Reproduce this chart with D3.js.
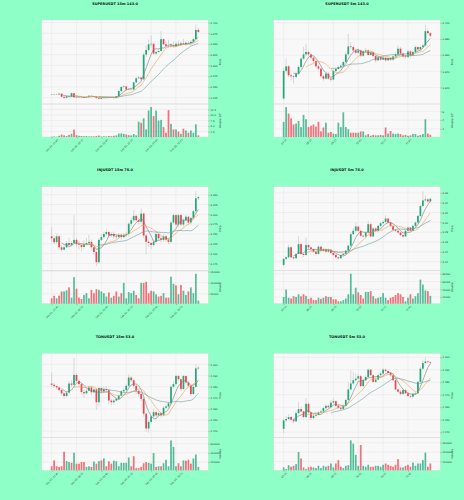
<!DOCTYPE html>
<html>
<head>
<meta charset="utf-8">
<script src="https://cdn.jsdelivr.net/npm/d3@7"></script>
<style>
html, body { margin: 0; padding: 0; background: #8effc6; }
svg { display: block; font-family: "DejaVu Sans", sans-serif; }
</style>
</head>
<body>
<svg id="chart" width="464" height="500"></svg>
<script>
// ---- SUPERUSDT 15m ----
const superO15 = [0.5318,0.5322,0.5329,0.5322,0.5341,0.5269,0.5245,0.5281,0.5269,0.5353,
  0.5257,0.5245,0.5250,0.5245,0.5262,0.5269,0.5293,0.5286,0.5269,0.5238,
  0.5221,0.5245,0.5257,0.5262,0.5257,0.5250,0.5238,0.5281,0.5401,0.5497,
  0.5509,0.5437,0.5430,0.5437,0.5605,0.5701,0.5718,0.5677,0.6253,0.6361,
  0.6493,0.6505,0.6277,0.6313,0.6337,0.6613,0.6493,0.6457,0.6445,0.6469,
  0.6445,0.6505,0.6481,0.6517,0.6493,0.6529,0.6517,0.6553,0.6613,0.6829];
const superH15 = [0.5335,0.5340,0.5338,0.5365,0.5345,0.5275,0.5295,0.5290,0.5370,0.5360,
  0.5265,0.5262,0.5258,0.5275,0.5280,0.5305,0.5300,0.5290,0.5272,0.5245,
  0.5252,0.5265,0.5270,0.5268,0.5262,0.5255,0.5290,0.5420,0.5515,0.5545,
  0.5520,0.5455,0.5450,0.5620,0.5740,0.5760,0.5730,0.6300,0.6470,0.6600,
  0.6700,0.6520,0.6340,0.6380,0.6800,0.6630,0.6560,0.6600,0.6520,0.6560,
  0.6560,0.6580,0.6560,0.6620,0.6560,0.6560,0.6590,0.6640,0.6955,0.6880];
const superL15 = [0.5310,0.5315,0.5312,0.5318,0.5255,0.5230,0.5240,0.5255,0.5262,0.5245,
  0.5232,0.5238,0.5230,0.5240,0.5255,0.5262,0.5275,0.5258,0.5225,0.5205,
  0.5215,0.5238,0.5250,0.5245,0.5240,0.5225,0.5230,0.5275,0.5385,0.5470,
  0.5420,0.5415,0.5420,0.5425,0.5590,0.5680,0.5650,0.5660,0.6200,0.6330,
  0.6420,0.6250,0.6240,0.6290,0.6320,0.6470,0.6420,0.6420,0.6430,0.6420,
  0.6430,0.6460,0.6460,0.6480,0.6470,0.6500,0.6500,0.6540,0.6600,0.6760];
const superC15 = [0.5322,0.5329,0.5322,0.5341,0.5269,0.5245,0.5281,0.5269,0.5353,0.5257,
  0.5245,0.5250,0.5245,0.5262,0.5269,0.5293,0.5286,0.5269,0.5238,0.5221,
  0.5245,0.5257,0.5262,0.5257,0.5250,0.5238,0.5281,0.5401,0.5497,0.5509,
  0.5437,0.5430,0.5437,0.5605,0.5701,0.5718,0.5677,0.6253,0.6361,0.6493,
  0.6505,0.6277,0.6313,0.6337,0.6613,0.6493,0.6457,0.6445,0.6469,0.6445,
  0.6505,0.6481,0.6517,0.6493,0.6529,0.6517,0.6553,0.6613,0.6829,0.6781];
const superV15 = [0.2e7,0.3e7,0.2e7,0.6e7,1.2e7,0.8e7,0.5e7,1.0e7,1.5e7,3.4e7,
  0.9e7,0.6e7,0.5e7,0.4e7,0.5e7,0.3e7,0.4e7,0.3e7,0.5e7,0.7e7,
  0.3e7,0.4e7,0.3e7,0.5e7,0.4e7,0.6e7,0.8e7,1.6e7,1.7e7,1.5e7,
  1.2e7,0.9e7,0.8e7,1.4e7,0.8e7,7.0e7,6.5e7,8.5e7,3.5e7,12.0e7,
  13.6e7,9.5e7,12.0e7,7.5e7,7.8e7,4.5e7,2.0e7,12.2e7,6.0e7,3.5e7,
  3.5e7,2.5e7,1.5e7,3.8e7,3.0e7,2.0e7,3.0e7,2.0e7,5.8e7,0.8e7];

// ---- SUPERUSDT 5m ----
const superO5 = [0.6064,0.6405,0.6462,0.6351,0.6339,0.6331,0.6372,0.6454,0.6557,0.6610,
  0.6639,0.6610,0.6569,0.6528,0.6462,0.6433,0.6339,0.6310,0.6372,0.6310,
  0.6298,0.6405,0.6429,0.6454,0.6470,0.6515,0.6610,0.6708,0.6700,0.6659,
  0.6630,0.6659,0.6593,0.6647,0.6659,0.6602,0.6634,0.6589,0.6536,0.6573,
  0.6544,0.6569,0.6536,0.6565,0.6544,0.6585,0.6610,0.6680,0.6618,0.6585,
  0.6577,0.6647,0.6597,0.6639,0.6700,0.6671,0.6700,0.6721,0.6897,0.6872];
const superH5 = [0.6440,0.6557,0.6480,0.6370,0.6360,0.6395,0.6475,0.6580,0.6700,0.6740,
  0.6655,0.6625,0.6585,0.6545,0.6480,0.6450,0.6355,0.6395,0.6390,0.6330,
  0.6425,0.6450,0.6475,0.6495,0.6535,0.6640,0.6864,0.6760,0.6715,0.6680,
  0.6680,0.6670,0.6665,0.6690,0.6670,0.6650,0.6650,0.6600,0.6590,0.6585,
  0.6590,0.6580,0.6580,0.6575,0.6600,0.6630,0.6720,0.6700,0.6640,0.6600,
  0.6665,0.6660,0.6655,0.6720,0.6710,0.6715,0.6740,0.6979,0.6930,0.6885];
const superL5 = [0.6052,0.6380,0.6330,0.6290,0.6250,0.6310,0.6360,0.6440,0.6540,0.6590,
  0.6590,0.6545,0.6500,0.6440,0.6410,0.6320,0.6280,0.6300,0.6295,0.6270,
  0.6285,0.6390,0.6420,0.6440,0.6455,0.6500,0.6590,0.6680,0.6640,0.6610,
  0.6620,0.6575,0.6580,0.6630,0.6590,0.6595,0.6570,0.6510,0.6525,0.6530,
  0.6540,0.6520,0.6530,0.6530,0.6535,0.6570,0.6595,0.6600,0.6570,0.6560,
  0.6565,0.6580,0.6590,0.6625,0.6655,0.6660,0.6690,0.6705,0.6855,0.6825];
const superC5 = [0.6405,0.6462,0.6351,0.6339,0.6331,0.6372,0.6454,0.6557,0.6610,0.6639,
  0.6610,0.6569,0.6528,0.6462,0.6433,0.6339,0.6310,0.6372,0.6310,0.6298,
  0.6405,0.6429,0.6454,0.6470,0.6515,0.6610,0.6708,0.6700,0.6659,0.6630,
  0.6659,0.6593,0.6647,0.6659,0.6602,0.6634,0.6589,0.6536,0.6573,0.6544,
  0.6569,0.6536,0.6565,0.6544,0.6585,0.6610,0.6680,0.6618,0.6585,0.6577,
  0.6647,0.6597,0.6639,0.6700,0.6671,0.6700,0.6721,0.6897,0.6872,0.6840];
const superV5 = [3.6e7,7.0e7,5.5e7,4.4e7,3.0e7,3.2e7,3.8e7,2.4e7,5.2e7,4.2e7,
  2.4e7,2.7e7,3.0e7,2.5e7,3.6e7,1.4e7,2.3e7,3.4e7,1.1e7,1.3e7,
  0.9e7,0.8e7,3.4e7,2.4e7,5.8e7,2.4e7,1.9e7,1.1e7,1.1e7,1.1e7,
  1.1e7,1.4e7,1.4e7,0.5e7,0.8e7,0.4e7,0.6e7,0.5e7,0.5e7,0.6e7,
  0.5e7,2.3e7,0.9e7,1.5e7,0.9e7,0.8e7,0.9e7,0.8e7,0.5e7,0.6e7,
  0.4e7,0.5e7,0.8e7,0.8e7,0.4e7,0.6e7,0.8e7,4.2e7,0.9e7,0.6e7];

// ---- INJUSDT 15m ----
const injO15 = [9.244,9.239,9.229,9.244,9.216,9.210,9.216,9.227,9.222,9.227,
  9.235,9.224,9.222,9.217,9.224,9.227,9.230,9.216,9.204,9.178,
  9.235,9.242,9.250,9.255,9.246,9.250,9.244,9.242,9.248,9.242,
  9.248,9.250,9.276,9.285,9.296,9.285,9.281,9.302,9.246,9.230,
  9.227,9.222,9.230,9.250,9.239,9.235,9.244,9.235,9.230,9.279,
  9.298,9.274,9.298,9.274,9.285,9.294,9.279,9.291,9.308,9.341];
const injH15 = [9.268,9.246,9.250,9.247,9.222,9.222,9.232,9.240,9.232,9.298,
  9.240,9.232,9.226,9.234,9.240,9.248,9.236,9.220,9.208,9.240,
  9.250,9.256,9.262,9.258,9.254,9.256,9.250,9.252,9.252,9.252,
  9.256,9.280,9.292,9.311,9.300,9.290,9.315,9.304,9.250,9.236,
  9.230,9.236,9.256,9.254,9.244,9.250,9.248,9.240,9.284,9.302,
  9.300,9.302,9.302,9.290,9.298,9.296,9.294,9.312,9.359,9.346];
const injL15 = [9.232,9.225,9.226,9.210,9.204,9.208,9.214,9.214,9.218,9.224,
  9.216,9.210,9.205,9.212,9.220,9.222,9.210,9.196,9.168,9.174,
  9.232,9.238,9.246,9.240,9.242,9.238,9.236,9.238,9.236,9.238,
  9.242,9.244,9.270,9.280,9.280,9.274,9.276,9.240,9.198,9.218,
  9.212,9.218,9.226,9.232,9.228,9.230,9.230,9.224,9.226,9.274,
  9.270,9.268,9.270,9.268,9.282,9.272,9.274,9.286,9.302,9.336];
const injC15 = [9.239,9.229,9.244,9.216,9.210,9.216,9.227,9.222,9.227,9.235,
  9.224,9.222,9.217,9.224,9.227,9.230,9.216,9.204,9.178,9.235,
  9.242,9.250,9.255,9.246,9.250,9.244,9.242,9.248,9.242,9.248,
  9.250,9.276,9.285,9.296,9.285,9.281,9.302,9.246,9.230,9.227,
  9.222,9.230,9.250,9.239,9.235,9.244,9.235,9.230,9.279,9.298,
  9.274,9.298,9.274,9.285,9.294,9.279,9.291,9.308,9.341,9.344];
const injV15 = [30000,41000,30000,42000,61000,61000,66000,79000,33000,125000,
  73000,33000,27000,45000,53000,30000,68000,53000,71000,68000,
  61000,53000,38000,56000,33000,41000,61000,38000,53000,99000,
  30000,58000,53000,64000,45000,30000,99000,99000,104000,53000,
  64000,61000,48000,38000,41000,53000,33000,33000,127000,95000,
  88000,48000,90000,64000,45000,61000,79000,53000,140000,20000];

// ---- INJUSDT 5m ----
const injO5 = [9.2133,9.2255,9.2288,9.2490,9.2288,9.2268,9.2356,9.2557,9.2356,9.2335,
  9.2537,9.2490,9.2457,9.2403,9.2356,9.2504,9.2423,9.2457,9.2403,9.2443,
  9.2376,9.2335,9.2288,9.2268,9.2335,9.2356,9.2423,9.2524,9.2759,9.2827,
  9.2914,9.2827,9.2726,9.2712,9.2793,9.2961,9.2712,9.2874,9.2827,9.2928,
  9.2981,9.3008,9.3076,9.2995,9.2928,9.2847,9.2827,9.2793,9.2739,9.2712,
  9.2827,9.2894,9.2827,9.2928,9.2995,9.3130,9.3331,9.3446,9.3466,9.3426];
const injH5 = [9.2275,9.2320,9.2540,9.2510,9.2300,9.2380,9.2726,9.2580,9.2370,9.2692,
  9.2560,9.2500,9.2470,9.2420,9.2530,9.2520,9.2480,9.2470,9.2470,9.2460,
  9.2390,9.2350,9.2300,9.2350,9.2380,9.2440,9.2560,9.2800,9.2880,9.2995,
  9.2930,9.2840,9.2740,9.2810,9.3028,9.2990,9.2900,9.2900,9.2950,9.3010,
  9.3040,9.3143,9.3090,9.3010,9.2940,9.2860,9.2840,9.2800,9.2750,9.2850,
  9.2920,9.2910,9.2950,9.3020,9.3150,9.3360,9.3634,9.3540,9.3490,9.3500];
const injL5 = [9.2107,9.2230,9.2260,9.2260,9.2230,9.2250,9.2330,9.2330,9.2290,9.2310,
  9.2460,9.2430,9.2380,9.2320,9.2340,9.2400,9.2400,9.2380,9.2380,9.2350,
  9.2310,9.2260,9.2240,9.2250,9.2320,9.2340,9.2400,9.2500,9.2740,9.2800,
  9.2800,9.2700,9.2680,9.2700,9.2770,9.2690,9.2700,9.2800,9.2800,9.2900,
  9.2960,9.2990,9.2970,9.2900,9.2820,9.2800,9.2770,9.2720,9.2680,9.2700,
  9.2800,9.2800,9.2810,9.2900,9.2970,9.3110,9.3310,9.3420,9.3400,9.3410];
const injC5 = [9.2255,9.2288,9.2490,9.2288,9.2268,9.2356,9.2557,9.2356,9.2335,9.2537,
  9.2490,9.2457,9.2403,9.2356,9.2504,9.2423,9.2457,9.2403,9.2443,9.2376,
  9.2335,9.2288,9.2268,9.2335,9.2356,9.2423,9.2524,9.2759,9.2827,9.2914,
  9.2827,9.2726,9.2712,9.2793,9.2961,9.2712,9.2874,9.2827,9.2928,9.2981,
  9.3008,9.3076,9.2995,9.2928,9.2847,9.2827,9.2793,9.2739,9.2712,9.2827,
  9.2894,9.2827,9.2928,9.2995,9.3130,9.3331,9.3446,9.3466,9.3426,9.3479];
const injV5 = [20000,39000,18000,16000,22000,20000,27000,22000,27000,23000,
  15000,18000,12000,12000,18000,15000,18000,22000,20000,20000,
  14000,14000,9000,9000,12000,16000,27000,80000,27000,44000,
  32000,25000,16000,33000,33000,35000,22000,16000,18000,20000,
  30000,18000,12000,18000,20000,25000,30000,27000,20000,9000,
  18000,27000,16000,22000,30000,65000,52000,37000,35000,23000];

// ---- TONUSDT 15m ----
const tonO15 = [2.2828,2.2817,2.2805,2.2793,2.2769,2.2740,2.2716,2.2746,2.2828,2.2817,
  2.2905,2.2852,2.2823,2.2752,2.2740,2.2763,2.2793,2.2749,2.2775,2.2660,
  2.2787,2.2758,2.2778,2.2769,2.2675,2.2660,2.2675,2.2690,2.2719,2.2758,
  2.2769,2.2808,2.2882,2.2858,2.2808,2.2763,2.2734,2.2690,2.2557,2.2424,
  2.2483,2.2533,2.2571,2.2542,2.2562,2.2542,2.2610,2.2622,2.2651,2.2799,
  2.2823,2.2896,2.2867,2.2778,2.2896,2.2837,2.2808,2.2734,2.2799,2.2964];
const tonH15 = [2.2926,2.2835,2.2815,2.2805,2.2780,2.2750,2.2760,2.2850,2.2860,2.3059,
  2.2920,2.2865,2.2835,2.2770,2.2780,2.2810,2.2805,2.2790,2.2790,2.2800,
  2.2800,2.2800,2.2805,2.2780,2.2690,2.2690,2.2700,2.2730,2.2770,2.2785,
  2.2820,2.2911,2.2895,2.2870,2.2820,2.2775,2.2745,2.2700,2.2570,2.2500,
  2.2545,2.2600,2.2585,2.2580,2.2575,2.2625,2.2640,2.2665,2.2810,2.2850,
  2.2910,2.2905,2.2880,2.2905,2.2900,2.2850,2.2815,2.2810,2.3000,2.2985];
const tonL15 = [2.2800,2.2790,2.2775,2.2755,2.2720,2.2690,2.2705,2.2735,2.2795,2.2800,
  2.2830,2.2800,2.2730,2.2700,2.2730,2.2760,2.2720,2.2740,2.2590,2.2620,
  2.2740,2.2740,2.2750,2.2640,2.2630,2.2640,2.2665,2.2680,2.2710,2.2750,
  2.2760,2.2795,2.2840,2.2790,2.2730,2.2710,2.2670,2.2530,2.2394,2.2385,
  2.2470,2.2520,2.2520,2.2530,2.2520,2.2530,2.2600,2.2610,2.2640,2.2780,
  2.2810,2.2850,2.2760,2.2770,2.2820,2.2790,2.2715,2.2725,2.2790,2.2950];
const tonC15 = [2.2817,2.2805,2.2793,2.2769,2.2740,2.2716,2.2746,2.2828,2.2817,2.2905,
  2.2852,2.2823,2.2752,2.2740,2.2763,2.2793,2.2749,2.2775,2.2660,2.2787,
  2.2758,2.2778,2.2769,2.2675,2.2660,2.2675,2.2690,2.2719,2.2758,2.2769,
  2.2808,2.2882,2.2858,2.2808,2.2763,2.2734,2.2690,2.2557,2.2424,2.2483,
  2.2533,2.2571,2.2542,2.2562,2.2542,2.2610,2.2622,2.2651,2.2799,2.2823,
  2.2896,2.2867,2.2778,2.2896,2.2837,2.2808,2.2734,2.2799,2.2964,2.2970];
const tonV15 = [109000,236000,109000,95000,109000,425000,221000,200000,183000,405000,
  165000,165000,200000,200000,95000,109000,95000,210000,165000,221000,
  236000,280000,109000,216000,165000,230000,216000,109000,183000,183000,
  183000,300000,109000,327000,67000,67000,95000,174000,200000,183000,
  165000,396000,95000,109000,109000,174000,250000,109000,671000,530000,
  109000,174000,109000,236000,230000,250000,165000,280000,365000,95000];

// ---- TONUSDT 5m ----
const tonO5 = [2.2427,2.2495,2.2506,2.2521,2.2500,2.2487,2.2553,2.2585,2.2566,2.2521,
  2.2627,2.2558,2.2514,2.2532,2.2540,2.2558,2.2566,2.2593,2.2611,2.2600,
  2.2637,2.2648,2.2611,2.2595,2.2587,2.2611,2.2658,2.2742,2.2790,2.2816,
  2.2829,2.2848,2.2769,2.2816,2.2842,2.2900,2.2856,2.2803,2.2821,2.2856,
  2.2869,2.2900,2.2890,2.2874,2.2856,2.2816,2.2742,2.2724,2.2706,2.2737,
  2.2711,2.2690,2.2685,2.2706,2.2711,2.2803,2.2908,2.2953,2.2966,2.2961];
const tonH5 = [2.2510,2.2530,2.2545,2.2530,2.2510,2.2570,2.2645,2.2600,2.2575,2.2671,
  2.2640,2.2565,2.2545,2.2555,2.2570,2.2580,2.2605,2.2625,2.2620,2.2655,
  2.2670,2.2655,2.2620,2.2605,2.2625,2.2670,2.2800,2.2895,2.2880,2.2870,
  2.2865,2.2860,2.2830,2.2855,2.2910,2.2905,2.2865,2.2840,2.2870,2.2885,
  2.2912,2.2910,2.2895,2.2880,2.2865,2.2825,2.2750,2.2735,2.2750,2.2745,
  2.2720,2.2700,2.2715,2.2725,2.2810,2.2920,2.2980,2.2995,2.2975,2.2965];
const tonL5 = [2.2395,2.2480,2.2495,2.2490,2.2470,2.2480,2.2540,2.2555,2.2510,2.2510,
  2.2550,2.2500,2.2505,2.2525,2.2535,2.2550,2.2555,2.2585,2.2590,2.2590,
  2.2630,2.2600,2.2585,2.2575,2.2580,2.2600,2.2650,2.2735,2.2780,2.2805,
  2.2820,2.2760,2.2760,2.2810,2.2830,2.2845,2.2795,2.2795,2.2815,2.2845,
  2.2860,2.2880,2.2865,2.2845,2.2810,2.2735,2.2715,2.2695,2.2700,2.2705,
  2.2680,2.2672,2.2675,2.2700,2.2705,2.2795,2.2900,2.2945,2.2950,2.2940];
const tonC5 = [2.2495,2.2506,2.2521,2.2500,2.2487,2.2553,2.2585,2.2566,2.2521,2.2627,
  2.2558,2.2514,2.2532,2.2540,2.2558,2.2566,2.2593,2.2611,2.2600,2.2637,
  2.2648,2.2611,2.2595,2.2587,2.2611,2.2658,2.2742,2.2790,2.2816,2.2829,
  2.2848,2.2769,2.2816,2.2842,2.2900,2.2856,2.2803,2.2821,2.2856,2.2869,
  2.2900,2.2890,2.2874,2.2856,2.2816,2.2742,2.2724,2.2706,2.2737,2.2711,
  2.2690,2.2685,2.2706,2.2711,2.2803,2.2908,2.2953,2.2966,2.2961,2.2955];
const tonV5 = [37000,19000,61000,44000,54000,72000,202000,132000,37000,19000,
  37000,44000,37000,30000,54000,30000,54000,44000,54000,79000,
  37000,79000,114000,44000,30000,54000,61000,325000,290000,171000,
  54000,276000,54000,44000,65000,44000,44000,54000,54000,44000,
  65000,79000,65000,54000,44000,65000,125000,37000,37000,54000,
  65000,44000,89000,54000,79000,79000,114000,195000,44000,79000];

// ---- axis labels ----
const dates15 = ['Dec 01, 21:45','Dec 02, 00:15','Dec 02, 02:45','Dec 02, 05:15','Dec 02, 07:45','Dec 02, 10:15'];
const dates5 = ['07:35','08:25','09:15','10:05','10:55','11:45'];
const superTicks15 = [0.525,0.550,0.575,0.600,0.625,0.650,0.675,0.700];
const superTicks5 = [0.62,0.64,0.66,0.68,0.70];
const injTicks15 = [9.175,9.200,9.225,9.250,9.275,9.300,9.325,9.350];
const injTicks5 = [9.22,9.24,9.26,9.28,9.30,9.32,9.34,9.36];
const tonTicks = [2.24,2.25,2.26,2.27,2.28,2.29,2.30];
const superVolTicks15 = [2.5e7,5e7,7.5e7,10e7,12.5e7];
const superVolLabels15 = ['2.5','5.0','7.5','10.0','12.5'];
const superVolTicks5 = [2e7,4e7,6e7];
const superVolLabels5 = ['2','4','6'];
const injVolTicks15 = [50000,100000,150000];
const injVolTicks5 = [20000,40000,60000,80000];
const tonVolTicks15 = [200000,400000,600000];
const tonVolTicks5 = [100000,200000,300000];
const mavs = [5, 10, 20];

const UP = '#22aa7a', DOWN = '#ef4652';
const MAV_COLORS = ['#7b7b7b', '#f0a050', '#6a9ea2'];

const panels = [
  { title: 'SUPERUSDT 15m 143.0', o: superO15, h: superH15, l: superL15, c: superC15, v: superV15,
    pt: superTicks15, pf: '.3f', vt: superVolTicks15, vl: superVolLabels15, exp: 7, xl: dates15 },
  { title: 'SUPERUSDT 5m 143.0', o: superO5, h: superH5, l: superL5, c: superC5, v: superV5,
    pt: superTicks5, pf: '.3f', vt: superVolTicks5, vl: superVolLabels5, exp: 7, xl: dates5 },
  { title: 'INJUSDT 15m 78.0', o: injO15, h: injH15, l: injL15, c: injC15, v: injV15,
    pt: injTicks15, pf: '.3f', vt: injVolTicks15, vl: injVolTicks15.map(String), exp: 0, xl: dates15 },
  { title: 'INJUSDT 5m 78.0', o: injO5, h: injH5, l: injL5, c: injC5, v: injV5,
    pt: injTicks5, pf: '.2f', vt: injVolTicks5, vl: injVolTicks5.map(String), exp: 0, xl: dates5 },
  { title: 'TONUSDT 15m 53.0', o: tonO15, h: tonH15, l: tonL15, c: tonC15, v: tonV15,
    pt: tonTicks, pf: '.3f', vt: tonVolTicks15, vl: tonVolTicks15.map(String), exp: 0, xl: dates15 },
  { title: 'TONUSDT 5m 53.0', o: tonO5, h: tonH5, l: tonL5, c: tonC5, v: tonV5,
    pt: tonTicks, pf: '.3f', vt: tonVolTicks5, vl: tonVolTicks5.map(String), exp: 0, xl: dates5 }
];

const svg = d3.select('#chart');
svg.append('rect').attr('width', 464).attr('height', 500).attr('fill', '#8effc6');

panels.forEach((p, k) => drawPanel(p, k % 2, Math.floor(k / 2)));

function sma(arr, k) {
  return arr.map((d, i) => i < k - 1 ? null : d3.mean(arr.slice(i - k + 1, i + 1)));
}

function drawPanel(p, col, row) {
  const ox = col * 232, oy = row * 166.67;
  const L = ox + 41.7, R = ox + 208.3;
  const T = oy + 20, M = oy + 104, B = oy + 137;
  const n = p.c.length;
  const idx = d3.range(n);

  const x = d3.scaleLinear().domain([-4, n + 3]).range([L, R]);
  const lo = d3.min(p.l), hi = d3.max(p.h), pad = (hi - lo) * 0.06;
  const y = d3.scaleLinear().domain([lo - pad, hi + pad]).range([M, T]);
  const yv = d3.scaleLinear().domain([0.3 * d3.min(p.v), 1.1 * d3.max(p.v)]).range([B, M]);
  const step = x(1) - x(0);
  const bw = step * 0.7;

  const g = svg.append('g');

  g.append('rect').attr('x', L).attr('y', T).attr('width', R - L).attr('height', B - T)
    .attr('fill', '#f8f8f8');

  // grid
  const xt = d3.range(0, n, 10);
  const pt = p.pt.filter(t => t >= y.domain()[0] && t <= y.domain()[1]);
  g.append('g').selectAll('line').data(xt).join('line')
    .attr('x1', d => x(d)).attr('x2', d => x(d)).attr('y1', T).attr('y2', B)
    .attr('stroke', '#e1e1e1').attr('stroke-width', 0.4);
  g.append('g').selectAll('line').data(pt).join('line')
    .attr('x1', L).attr('x2', R).attr('y1', d => y(d)).attr('y2', d => y(d))
    .attr('stroke', '#e1e1e1').attr('stroke-width', 0.4);
  g.append('g').selectAll('line').data(p.vt).join('line')
    .attr('x1', L).attr('x2', R).attr('y1', d => yv(d)).attr('y2', d => yv(d))
    .attr('stroke', '#e1e1e1').attr('stroke-width', 0.4);

  // frames
  g.append('rect').attr('x', L).attr('y', T).attr('width', R - L).attr('height', M - T)
    .attr('fill', 'none').attr('stroke', '#d4d4d4').attr('stroke-width', 0.4);
  g.append('rect').attr('x', L).attr('y', M).attr('width', R - L).attr('height', B - M)
    .attr('fill', 'none').attr('stroke', '#d4d4d4').attr('stroke-width', 0.4);

  // volume
  g.append('g').selectAll('rect').data(idx).join('rect')
    .attr('x', i => x(i) - bw / 2).attr('width', bw)
    .attr('y', i => yv(p.v[i])).attr('height', i => B - yv(p.v[i]))
    .attr('fill', i => p.c[i] >= p.o[i] ? UP : DOWN).attr('opacity', 0.75);

  // wicks
  g.append('g').selectAll('line').data(idx).join('line')
    .attr('x1', i => x(i)).attr('x2', i => x(i))
    .attr('y1', i => y(p.h[i])).attr('y2', i => y(p.l[i]))
    .attr('stroke', '#b4b4b4').attr('stroke-width', 0.45);

  // bodies
  g.append('g').selectAll('rect').data(idx).join('rect')
    .attr('x', i => x(i) - bw / 2).attr('width', bw)
    .attr('y', i => y(Math.max(p.o[i], p.c[i])))
    .attr('height', i => Math.max(0.35, Math.abs(y(p.o[i]) - y(p.c[i]))))
    .attr('fill', i => p.c[i] >= p.o[i] ? UP : DOWN);

  // moving averages
  const line = d3.line().defined(d => d[1] != null).x(d => x(d[0])).y(d => y(d[1]));
  mavs.forEach((k, j) => {
    const ma = sma(p.c, k);
    g.append('path').datum(ma.map((d, i) => [i, d]))
      .attr('d', line).attr('fill', 'none')
      .attr('stroke', MAV_COLORS[j]).attr('stroke-width', 0.6);
  });

  // price axis
  const ay = d3.axisRight(y).tickValues(pt).tickFormat(d3.format(p.pf)).tickSize(1.4).tickPadding(0.9);
  g.append('g').attr('transform', `translate(${R},0)`).call(ay)
    .call(s => s.select('.domain').remove())
    .call(styleAxis);

  // volume axis
  const av = d3.axisRight(yv).tickValues(p.vt).tickFormat((d, i) => p.vl[i]).tickSize(1.4).tickPadding(0.9);
  g.append('g').attr('transform', `translate(${R},0)`).call(av)
    .call(s => s.select('.domain').remove())
    .call(styleAxis);

  // x axis
  const ax = d3.axisBottom(x).tickValues(xt).tickFormat((d, i) => p.xl[i]).tickSize(1.4);
  const gx = g.append('g').attr('transform', `translate(0,${B})`).call(ax)
    .call(s => s.select('.domain').remove())
    .call(styleAxis);
  gx.selectAll('text').each(function () {
    const len = this.getComputedTextLength();
    d3.select(this).attr('text-anchor', 'middle').attr('y', 0).attr('dy', '0.35em')
      .attr('transform', `translate(0,${2.4 + len * 0.3536}) rotate(-45)`);
  });

  // axis titles
  g.append('text').attr('transform', `translate(${ox + 221},${(T + M) / 2}) rotate(-90)`)
    .attr('text-anchor', 'middle').attr('font-size', 2.6).attr('fill', '#222').text('Price');
  const vt = g.append('text').attr('transform', `translate(${ox + 221},${(M + B) / 2}) rotate(-90)`)
    .attr('text-anchor', 'middle').attr('font-size', 2.6).attr('fill', '#222');
  vt.append('tspan').text(p.exp ? 'Volume  10' : 'Volume');
  if (p.exp) vt.append('tspan').attr('dy', -1).attr('font-size', 1.8).text(p.exp);

  // title
  g.append('text').attr('x', ox + 115).attr('y', oy + 4.6)
    .attr('text-anchor', 'middle').attr('font-size', 3.5).attr('font-weight', 'bold')
    .attr('fill', '#111').text(p.title);
}

function styleAxis(s) {
  s.attr('font-size', 2.4).attr('font-family', '"DejaVu Sans", sans-serif');
  s.selectAll('line').attr('stroke', '#555').attr('stroke-width', 0.3);
  s.selectAll('text').attr('fill', '#333');
}
</script>
</body>
</html>
